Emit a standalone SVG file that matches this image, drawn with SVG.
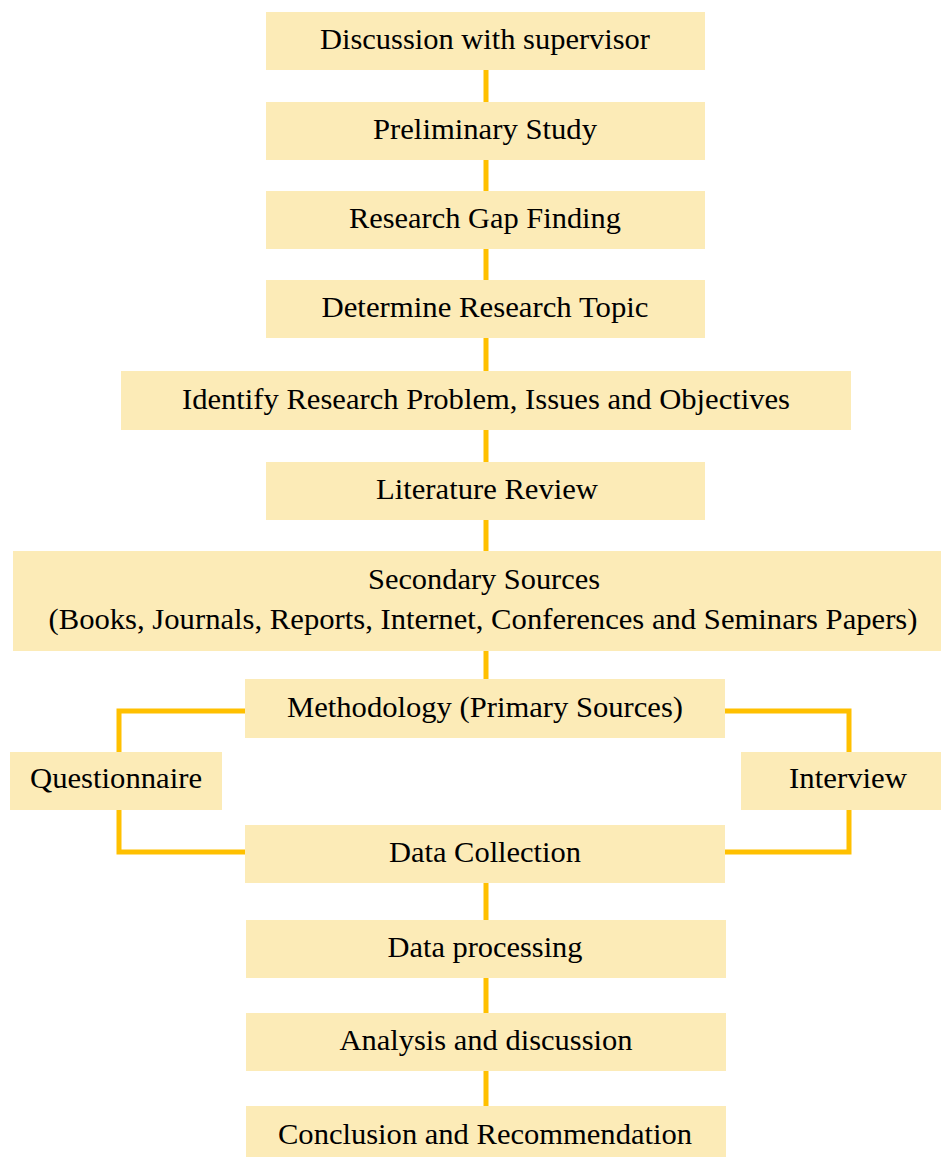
<svg xmlns="http://www.w3.org/2000/svg" width="941" height="1157" viewBox="0 0 941 1157">
<style>
.box{fill:#FCEBB7}
.t{font-family:"Liberation Serif","Times New Roman",serif;font-size:30px;fill:#000;text-anchor:middle}
.c{stroke:#FFC000;stroke-width:5;fill:none}
</style>
<rect width="941" height="1157" fill="#fff"/>
<g id="connectors">
<line class="c" x1="486" y1="70" x2="486" y2="679"/>
<line class="c" x1="486" y1="883" x2="486" y2="1106"/>
<polyline class="c" points="245,711 119,711 119,752"/>
<polyline class="c" points="119,810 119,852 245,852"/>
<polyline class="c" points="725,711 849,711 849,752"/>
<polyline class="c" points="849,810 849,852 725,852"/>
</g>
<g id="n1"><rect class="box" x="266" y="12" width="439" height="58"/><text class="t" x="485" y="49" textLength="330" lengthAdjust="spacingAndGlyphs">Discussion with supervisor</text></g>
<g id="n2"><rect class="box" x="266" y="102" width="439" height="58"/><text class="t" x="485" y="139" textLength="224" lengthAdjust="spacingAndGlyphs">Preliminary Study</text></g>
<g id="n3"><rect class="box" x="266" y="191" width="439" height="58"/><text class="t" x="485" y="228" textLength="272" lengthAdjust="spacingAndGlyphs">Research Gap Finding</text></g>
<g id="n4"><rect class="box" x="266" y="280" width="439" height="58"/><text class="t" x="485" y="317" textLength="327" lengthAdjust="spacingAndGlyphs">Determine Research Topic</text></g>
<g id="n5"><rect class="box" x="121" y="371" width="730" height="59"/><text class="t" x="486" y="409" textLength="608" lengthAdjust="spacingAndGlyphs">Identify Research Problem, Issues and Objectives</text></g>
<g id="n6"><rect class="box" x="266" y="462" width="439" height="58"/><text class="t" x="487" y="499" textLength="222" lengthAdjust="spacingAndGlyphs">Literature Review</text></g>
<g id="n7"><rect class="box" x="13" y="551" width="928" height="100"/><text class="t" x="484" y="589" textLength="232" lengthAdjust="spacingAndGlyphs">Secondary Sources</text><text class="t" x="483" y="629" textLength="869" lengthAdjust="spacingAndGlyphs">(Books, Journals, Reports, Internet, Conferences and Seminars Papers)</text></g>
<g id="n8"><rect class="box" x="245" y="679" width="480" height="59"/><text class="t" x="485" y="717" textLength="396" lengthAdjust="spacingAndGlyphs">Methodology (Primary Sources)</text></g>
<g id="n9"><rect class="box" x="10" y="752" width="212" height="58"/><text class="t" x="116" y="788" textLength="172" lengthAdjust="spacingAndGlyphs">Questionnaire</text></g>
<g id="n10"><rect class="box" x="741" y="752" width="200" height="58"/><text class="t" x="848" y="788" textLength="118" lengthAdjust="spacingAndGlyphs">Interview</text></g>
<g id="n11"><rect class="box" x="245" y="825" width="480" height="58"/><text class="t" x="485" y="862" textLength="192" lengthAdjust="spacingAndGlyphs">Data Collection</text></g>
<g id="n12"><rect class="box" x="246" y="920" width="480" height="58"/><text class="t" x="485" y="957" textLength="195" lengthAdjust="spacingAndGlyphs">Data processing</text></g>
<g id="n13"><rect class="box" x="246" y="1013" width="480" height="58"/><text class="t" x="486" y="1050" textLength="293" lengthAdjust="spacingAndGlyphs">Analysis and discussion</text></g>
<g id="n14"><rect class="box" x="246" y="1106" width="480" height="51"/><text class="t" x="485" y="1144" textLength="414" lengthAdjust="spacingAndGlyphs">Conclusion and Recommendation</text></g>
</svg>
